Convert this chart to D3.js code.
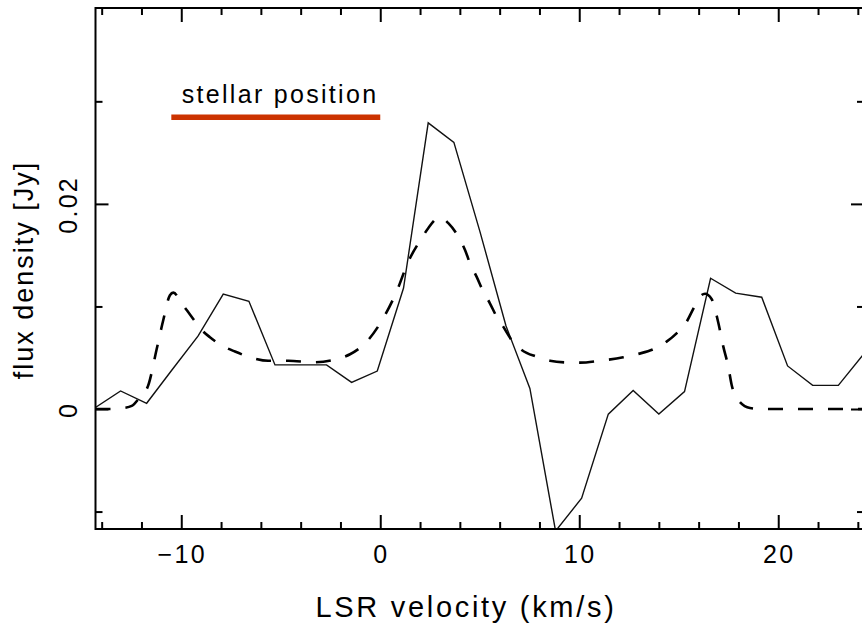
<!DOCTYPE html>
<meta charset="utf-8">
<style>
  body {
    background-color: white;
    padding: 0;
    margin: 0;
  }
  svg {
    display: block;
    background-color: white;
  }
  text {
    font-family: "Liberation Sans", Arial, sans-serif;
    fill: #000;
  }
  .ticklabel {
    font-size: 25px;
    letter-spacing: 2.3px;
  }
  .xtitle {
    font-size: 29px;
    letter-spacing: 2.7px;
  }
  .ytitle {
    font-size: 27px;
    letter-spacing: 2px;
  }
  .axis path { display: none; }
  .axis line { stroke: #000; stroke-width: 2px; }
</style>

<script src="https://cdn.jsdelivr.net/npm/d3@7"></script>
<svg id="vis"></svg>

<script>

var width = 862, height = 627;

// observed spectrum, one point per channel
const velocity = [-14.35, -13.05, -11.74, -10.47, -9.16, -7.89, -6.60, -5.29, -3.98, -2.70,
                  -1.44, -0.15, 1.17, 2.41, 3.70, 5.01, 6.32, 7.52, 8.81, 10.12,
                  11.46, 12.71, 14.00, 15.29, 16.60, 17.86, 19.17, 20.47, 21.73, 23.02, 24.31];
const flux = [0.0001, 0.00176, 0.00056, 0.0038, 0.0071, 0.0112, 0.0105, 0.0043, 0.0043, 0.0043,
              0.0026, 0.0037, 0.0118, 0.0279, 0.0260, 0.0173, 0.0081, 0.0020, -0.0119, -0.0087,
              -0.0005, 0.0018, -0.0005, 0.0017, 0.01275, 0.0113, 0.0109, 0.0042, 0.0023, 0.0023, 0.0054];

// model profile (dashed)
const modelVelocity = [-14.31, -13.5, -12.9, -12.49, -12.1, -11.66, -11.24, -10.90, -10.57, -10.40,
                       -9.98, -9.48, -8.97, -8.56, -7.97, -7.30, -6.46, -5.63, -4.62, -3.37,
                       -2.03, -1.52, -0.68, 0.15, 0.82, 1.41, 2.08, 2.41, 3.00, 3.42,
                       3.92, 4.26, 4.51, 4.84, 5.18, 5.51, 5.85, 6.18, 6.60, 7.11,
                       7.86, 8.53, 9.37, 10.04, 11.04, 12.21, 12.96, 13.72, 14.39, 14.89,
                       15.40, 15.73, 16.07, 16.32, 16.65, 16.98, 17.24, 17.49, 17.66, 17.99,
                       18.58, 19.2, 24.31];
const modelFlux = [0, 0, 0.0001, 0.0003, 0.0011, 0.0023, 0.0058, 0.0087, 0.0111, 0.01135,
                   0.0103, 0.0090, 0.0077, 0.0070, 0.0062, 0.0056, 0.0050, 0.0047, 0.0047, 0.00456,
                   0.00495, 0.00534, 0.00657, 0.00885, 0.01144, 0.01437, 0.01665, 0.01763, 0.01870, 0.01812,
                   0.01681, 0.01551, 0.01421, 0.01291, 0.01144, 0.01031, 0.00900, 0.00803, 0.00673, 0.00576,
                   0.00510, 0.00471, 0.00454, 0.00452, 0.00471, 0.00504, 0.00537, 0.00582, 0.00657, 0.00738,
                   0.00852, 0.00976, 0.01096, 0.01124, 0.01073, 0.00849, 0.00608, 0.00413, 0.00234, 0.00088,
                   0.0001, 0, 0];

const stellarRange = [-10.5, 0];
const stellarLevel = 0.02844;
const stellarText = "stellar position";

const xMajor = [-10, 0, 10, 20];
const xMinor = [-14, -12, -8, -6, -4, -2, 2, 4, 6, 8, 12, 14, 16, 18, 22, 24];
const yMajor = [0, 0.02];
const yMinor = [-0.01, 0.01, 0.03];
const xLabels = ["\u221210", "0", "10", "20"];
const yLabels = ["0", "0.02"];
const xTitle = "LSR velocity (km/s)";
const yTitle = "flux density [Jy]";

var svg = d3.select("svg")
  .attr("width", width)
  .attr("height", height);

// plot box (right edge falls just outside the page)
var pLeft = 95.5, pRight = 864, pTop = 8, pBottom = 529;

var x = d3.scaleLinear().domain([-14.31, 24.31]).range([pLeft, pRight]);
var y = d3.scaleLinear().domain([-0.0117, 0.0391]).range([pBottom, pTop]);

svg.append("clipPath").attr("id", "plotclip")
  .append("rect")
  .attr("x", pLeft).attr("y", pTop)
  .attr("width", pRight - pLeft).attr("height", pBottom - pTop);

var plot = svg.append("g").attr("clip-path", "url(#plotclip)");

// observed
plot.append("path")
  .datum(velocity.map((v, i) => [v, flux[i]]))
  .attr("fill", "none")
  .attr("stroke", "#111")
  .attr("stroke-width", 1.4)
  .attr("stroke-linejoin", "miter")
  .attr("d", d3.line().x(d => x(d[0])).y(d => y(d[1])));

// model
plot.append("path")
  .datum(modelVelocity.map((v, i) => [v, modelFlux[i]]))
  .attr("fill", "none")
  .attr("stroke", "#000")
  .attr("stroke-width", 2.6)
  .attr("stroke-dasharray", "15,15")
  .attr("d", d3.line().curve(d3.curveMonotoneX).x(d => x(d[0])).y(d => y(d[1])));

// stellar position bar
svg.append("line")
  .attr("x1", x(stellarRange[0])).attr("x2", x(stellarRange[1]))
  .attr("y1", y(stellarLevel)).attr("y2", y(stellarLevel))
  .attr("stroke", "#cc3300")
  .attr("stroke-width", 5.5);

svg.append("text")
  .attr("class", "ticklabel")
  .attr("x", x(-10) + 0.5)
  .attr("y", y(stellarLevel) - 14.5)
  .text(stellarText);

// ticks, all pointing inward
function ticks(axis, values, size, tx, ty) {
  svg.append("g")
    .attr("class", "axis")
    .attr("transform", "translate(" + tx + "," + ty + ")")
    .call(axis.tickValues(values).tickSizeInner(size).tickSizeOuter(0).tickFormat(""));
}
ticks(d3.axisBottom(x), xMajor, -14, 0, pBottom);
ticks(d3.axisBottom(x), xMinor, -7, 0, pBottom);
ticks(d3.axisTop(x), xMajor, -14, 0, pTop);
ticks(d3.axisTop(x), xMinor, -7, 0, pTop);
ticks(d3.axisLeft(y), yMajor, -13, pLeft, 0);
ticks(d3.axisLeft(y), yMinor, -7, pLeft, 0);
ticks(d3.axisRight(y), yMajor, -13, pRight, 0);
ticks(d3.axisRight(y), yMinor, -7, pRight, 0);

// frame
svg.append("rect")
  .attr("x", pLeft).attr("y", pTop)
  .attr("width", pRight - pLeft).attr("height", pBottom - pTop)
  .attr("fill", "none")
  .attr("stroke", "#000")
  .attr("stroke-width", 2);

// tick labels
svg.selectAll(".xl")
  .data(xMajor)
  .enter().append("text")
  .attr("class", "ticklabel")
  .attr("text-anchor", "middle")
  .attr("x", d => x(d) + 1)
  .attr("y", 563)
  .text((d, i) => xLabels[i]);

svg.selectAll(".yl")
  .data(yMajor)
  .enter().append("text")
  .attr("class", "ticklabel")
  .attr("text-anchor", "middle")
  .attr("transform", d => "translate(77," + (y(d) + 1) + ") rotate(-90)")
  .text((d, i) => yLabels[i]);

// titles
svg.append("text")
  .attr("class", "xtitle")
  .attr("text-anchor", "middle")
  .attr("x", 466)
  .attr("y", 617)
  .text(xTitle);

svg.append("text")
  .attr("class", "ytitle")
  .attr("text-anchor", "middle")
  .attr("transform", "translate(33,270) rotate(-90)")
  .text(yTitle);

</script>
